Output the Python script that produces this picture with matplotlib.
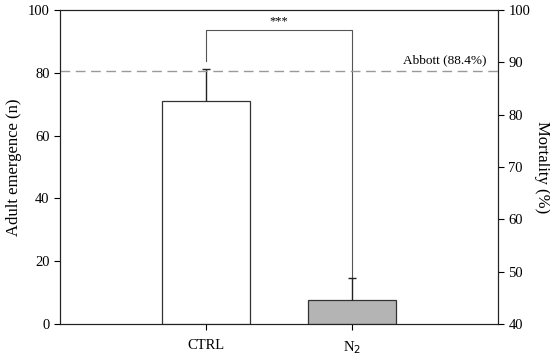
import numpy as np
import matplotlib.pyplot as plt

plt.rcParams['font.family'] = ['Liberation Serif', 'DejaVu Serif']

groups = ['CTRL', 'N$_2$']
emergence = [71.1, 7.6]
errors = [10.1, 7.0]
abbott = 88.4          # mortality (%) on right axis
stars = '***'

fig = plt.figure(figsize=(5.5, 3.59), dpi=100)
ax = fig.add_axes([60 / 550, 35 / 359, 438 / 550, 314 / 359])

x = np.arange(1, len(groups) + 1)
ax.bar(x, emergence, width=0.6, color=['white', '#b4b4b4'],
       edgecolor='#333333', linewidth=0.9, zorder=3)
# upper error bars only
tops = np.array(emergence) + np.array(errors)
ax.vlines(x, emergence, tops, color='#222222', lw=1.0, zorder=4)
ax.hlines(tops, x - 0.028, x + 0.028, color='#222222', lw=1.0, zorder=4)

ax.set_xlim(0, 3)
ax.set_ylim(0, 100)
ax.set_xticks(x)
ax.set_xticklabels(groups)
ax.set_yticks(np.arange(0, 101, 20))
ax.tick_params(direction='out', length=4, labelsize=10.5, width=0.8)
ax.tick_params(axis='x', pad=7)
ax.set_ylabel('Adult emergence (n)', fontsize=12)

# significance bracket
top = 93.6
ax.plot([x[0], x[0], x[1], x[1]],
        [tops[0] + 2.4, top, top, tops[1]],
        color='#555555', lw=0.8, zorder=2)
ax.text(x.mean(), top + 1.0, stars, ha='center', va='bottom', fontsize=9)

ax2 = ax.twinx()
ax2.set_ylim(40, 100)
ax2.set_yticks(np.arange(40, 101, 10))
ax2.tick_params(direction='out', length=4, labelsize=10.5, width=0.8)
ax2.set_ylabel('Mortality (%)', fontsize=12, rotation=270, labelpad=14)
ax2.axhline(abbott, color='#999999', lw=1.0, ls=(0, (7, 4)), zorder=1)
ax2.text(2.92, abbott + 0.8, 'Abbott (88.4%)', ha='right', va='bottom', fontsize=9.5)

for a in (ax, ax2):
    for s in a.spines.values():
        s.set_linewidth(0.8)
        s.set_color('#222222')

fig.savefig('out.png', dpi=100)
